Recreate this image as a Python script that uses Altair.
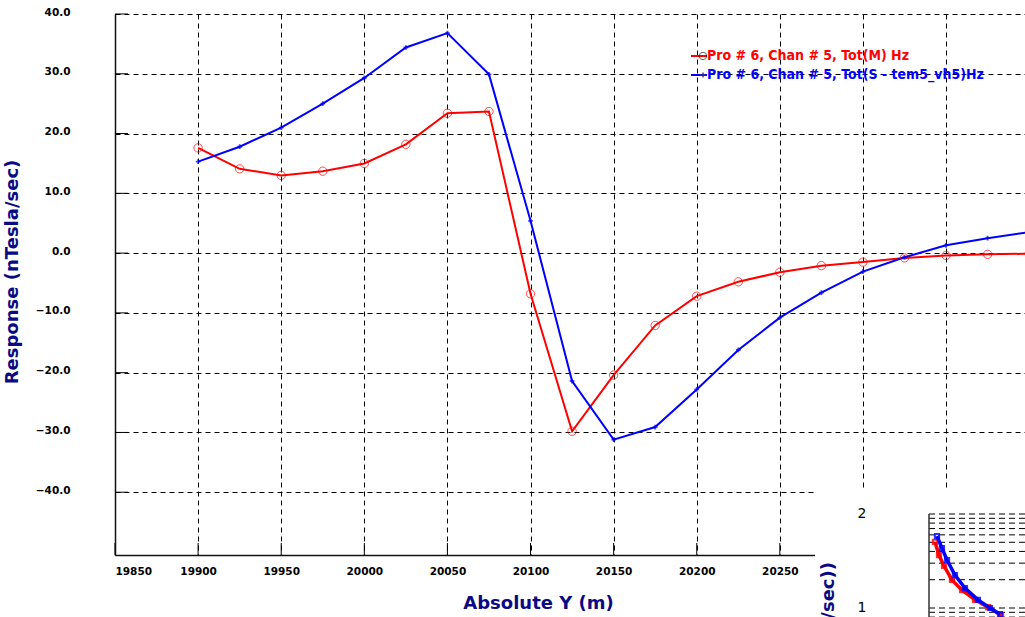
import altair as alt
import pandas as pd

# ---------------- data ----------------
y_pos = [19900, 19925, 19950, 19975, 20000, 20025, 20050, 20075, 20100, 20125,
         20150, 20175, 20200, 20225, 20250, 20275, 20300, 20325, 20350, 20375, 20400]
red_vals = [17.6, 14.1, 13.0, 13.7, 15.0, 18.2, 23.4, 23.7, -6.8, -29.8,
            -20.4, -12.1, -7.2, -4.8, -3.2, -2.1, -1.5, -0.8, -0.4, -0.2, -0.1]
blue_vals = [15.3, 17.8, 21.0, 25.0, 29.3, 34.4, 36.8, 29.9, 5.4, -21.4,
             -31.2, -29.1, -22.8, -16.2, -10.8, -6.6, -3.1, -0.7, 1.3, 2.5, 3.5]
series_names = ["Pro # 6, Chan # 5, Tot(M) Hz",
                "Pro # 6, Chan # 5, Tot(S - tem5_vh5)Hz"]
y_ticks = [40, 30, 20, 10, 0, -10, -20, -30, -40]
x_ticks = [19850, 19900, 19950, 20000, 20050, 20100, 20150, 20200, 20250, 20300, 20350]

# inset (decay panel, log scale)
inset_t_red = [7.2, 11.3, 16.5, 24.7, 35.1, 48.5, 61.9, 75.3]
inset_red = [50.4, 36.6, 28.0, 19.9, 15.5, 12.2, 10.2, 8.4]
inset_t_blue = [9.3, 14.4, 19.6, 27.8, 38.1, 51.5, 63.9, 74.2]
inset_blue = [58.3, 43.4, 32.4, 22.4, 16.3, 12.2, 10.0, 8.6]
inset_grid = [8, 9, 10, 20, 30, 40, 50, 60, 70, 80, 90, 100]
inset_label_text = ["2", "1"]
inset_label_vals = [100, 10]

RED = "#ff0000"
BLUE = "#0000ff"
NAVY = "#0a0a84"
W, H = 910, 541

df_red = pd.DataFrame({"Y": y_pos, "val": red_vals})
df_blue = pd.DataFrame({"Y": y_pos, "val": blue_vals})
df_yt = pd.DataFrame({"v": y_ticks})
df_xt = pd.DataFrame({"x": x_ticks})
one = pd.DataFrame({"a": [0]})

xs = alt.Scale(domain=[19850, 20397.5], nice=False, zero=False)
ys = alt.Scale(domain=[-50.5, 40], nice=False, zero=False)

xaxis = alt.Axis(values=x_ticks, format="d", title="Absolute Y (m)", ticks=False,
                 labelPadding=11, grid=True, titleX=423, titleY=48,
                 titleAlign="center", titleBaseline="middle")
yaxis = alt.Axis(values=y_ticks, format=".1f", title="Response (nTesla/sec)",
                 ticks=False, labelPadding=45, labelOffset=-2, grid=True,
                 titleX=-102.5, titleY=257.5, titleAngle=270,
                 titleAlign="center", titleBaseline="middle")

X = alt.X("Y:Q", scale=xs, axis=xaxis)
Yv = alt.Y("val:Q", scale=ys, axis=yaxis)

red_line = alt.Chart(df_red).mark_line(color=RED, strokeWidth=2, clip=True).encode(x=X, y=Yv)
red_pts = alt.Chart(df_red).mark_point(shape="circle", filled=False, color=RED, size=70,
                                       strokeWidth=1, clip=True).encode(x=X, y=Yv)
blue_line = alt.Chart(df_blue).mark_line(color=BLUE, strokeWidth=2, clip=True).encode(x=X, y=Yv)
blue_pts = alt.Chart(df_blue).mark_point(shape="cross", filled=True, color=BLUE, size=22,
                                         clip=True).encode(x=X, y=Yv)

ytick_rules = alt.Chart(df_yt).mark_rule(color="black", strokeWidth=1).encode(
    y=alt.Y("v:Q", scale=ys, axis=yaxis), x=alt.value(0), x2=alt.value(13))
xtick_rules = alt.Chart(df_xt).mark_rule(color="black", strokeWidth=1).encode(
    x=alt.X("x:Q", scale=xs, axis=xaxis), y=alt.value(H - 12), y2=alt.value(H))

LEG_FONT = "Liberation Sans Narrow, DejaVu Sans Condensed, Liberation Sans"


def legend_entry(label, color, yrow, marker_shape, marker_filled, marker_color, marker_size):
    ln = alt.Chart(one).mark_rule(color=color, strokeWidth=2).encode(
        x=alt.value(576), x2=alt.value(592), y=alt.value(yrow))
    mk = alt.Chart(one).mark_point(shape=marker_shape, filled=marker_filled, color=marker_color,
                                   size=marker_size, strokeWidth=1).encode(
        x=alt.value(588), y=alt.value(yrow))
    tx = alt.Chart(one).mark_text(align="left", baseline="middle", font=LEG_FONT,
                                  fontWeight="bold", fontSize=14, color=color).encode(
        x=alt.value(592), y=alt.value(yrow), text=alt.value(label))
    return ln + mk + tx


leg_red = legend_entry(series_names[0], RED, 42, "circle", False, "#222222", 55)
leg_blue = legend_entry(series_names[1], BLUE, 61, "cross", True, "#333366", 26)

main = alt.layer(ytick_rules, xtick_rules, red_line, blue_line, red_pts, blue_pts,
                 leg_red, leg_blue)

# ---------------- inset ----------------
ixs = alt.Scale(domain=[0, 100], range=[813, 910], nice=False, zero=False)
iys = alt.Scale(type="log", domain=[10, 100], range=[594, 500], nice=False)

df_ired = pd.DataFrame({"t": inset_t_red, "v": inset_red})
df_iblue = pd.DataFrame({"t": inset_t_blue, "v": inset_blue})
df_igrid = pd.DataFrame({"v": inset_grid})
df_ilab = pd.DataFrame({"v": inset_label_vals, "txt": inset_label_text})

IX = alt.X("t:Q", scale=ixs, axis=None)
IY = alt.Y("v:Q", scale=iys, axis=None)

bg = alt.Chart(one).mark_rect(color="white", opacity=1).encode(
    x=alt.value(700), x2=alt.value(915), y=alt.value(474), y2=alt.value(612))
igrid = alt.Chart(df_igrid).mark_rule(color="black", strokeWidth=1, strokeDash=[6, 4]).encode(
    y=IY, x=alt.value(814), x2=alt.value(915))
iaxis = alt.Chart(one).mark_rule(color="#333333", strokeWidth=1.5).encode(
    x=alt.value(814), y=alt.value(500), y2=alt.value(612))
ilab = alt.Chart(df_ilab).mark_text(font="DejaVu Sans", fontSize=14, color="black",
                                    align="center", baseline="middle").encode(
    y=IY, x=alt.value(747), text="txt:N")
ititle = alt.Chart(one).mark_text(font="DejaVu Sans", fontWeight="bold", fontSize=18, color=NAVY,
                                  angle=270, align="right", baseline="middle").encode(
    x=alt.value(714), y=alt.value(548), text=alt.value("Response (nTesla/sec))"))
ired_line = alt.Chart(df_ired).mark_line(color=RED, strokeWidth=3.5).encode(x=IX, y=IY)
ired_pts = alt.Chart(df_ired).mark_point(shape="square", filled=False, color=RED, size=18,
                                         opacity=0.8).encode(x=IX, y=IY)
iblue_line = alt.Chart(df_iblue).mark_line(color=BLUE, strokeWidth=3.5).encode(x=IX, y=IY)
iblue_pts = alt.Chart(df_iblue).mark_point(shape="square", filled=False, color=BLUE, size=18,
                                           opacity=0.8).encode(x=IX, y=IY)

inset = alt.layer(bg, igrid, iaxis, ilab, ititle, ired_line, ired_pts, iblue_line, iblue_pts)

chart = alt.layer(main, inset).resolve_scale(x="independent", y="independent").properties(
    width=W, height=H,
    autosize=alt.AutoSizeParams(type="none"),
    padding={"left": 115, "top": 14, "right": 0, "bottom": 62},
    background="white",
).configure_view(stroke=None).configure_axis(
    domainColor="#111111", domainWidth=1.5,
    gridColor="black", gridDash=[5, 4], gridWidth=1, gridOpacity=1,
    labelFont="DejaVu Sans", labelFontWeight="bold", labelFontSize=10.5, labelColor="black",
    titleFont="DejaVu Sans", titleFontWeight="bold", titleFontSize=18, titleColor=NAVY,
)

chart.save("out.html", embed_options={"renderer": "svg", "actions": False})
